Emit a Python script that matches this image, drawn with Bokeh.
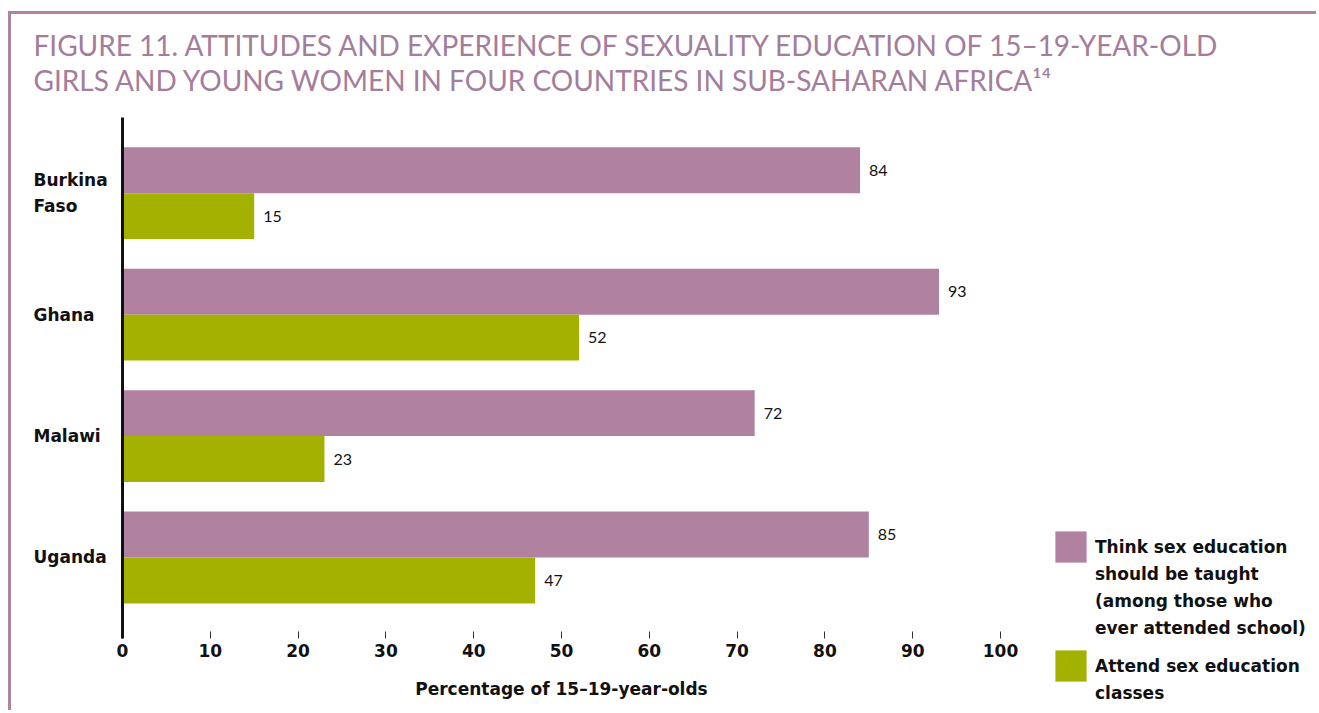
from bokeh.plotting import figure
from bokeh.models import (ColumnDataSource, Range1d, FixedTicker, Legend, LegendItem,
                          Label, LabelSet)
from bokeh.core.properties import value
from bokeh.embed import file_html
from bokeh.resources import INLINE

# ---- data ----
countries = ["Burkina\nFaso", "Ghana", "Malawi", "Uganda"]
think_taught = [84, 93, 72, 85]
attend_classes = [15, 52, 23, 47]
x_ticks = [0, 10, 20, 30, 40, 50, 60, 70, 80, 90, 100]
series_names = ["Think sex education\nshould be taught\n(among those who\never attended school)",
                "Attend sex education\nclasses"]
title_lines = ["FIGURE 11. ATTITUDES AND EXPERIENCE OF SEXUALITY EDUCATION OF 15\u201319-YEAR-OLD",
               "GIRLS AND YOUNG WOMEN IN FOUR COUNTRIES IN SUB-SAHARAN AFRICA\u00b9\u2074"]
x_label = "Percentage of 15\u201319-year-olds"

PINK = "#b0829f"
GREEN = "#a3b100"
TITLE_C = "#a47d9b"
FONT = "Lato"
BOLD_FONT = "DejaVu Sans"
INK = "#111111"

n = len(countries)
ypos = [n - 1 - i for i in range(n)]
bar_h = 0.378
y_bottom = -0.667   # where the value axis sits
y_top = 3.6235      # top of the category axis line
label_x = -10.14    # left edge of the category labels / title

src_pink = ColumnDataSource(dict(y=[v + bar_h / 2 for v in ypos], x=think_taught,
                                 lab=[str(v) for v in think_taught]))
src_green = ColumnDataSource(dict(y=[v - bar_h / 2 for v in ypos], x=attend_classes,
                                  lab=[str(v) for v in attend_classes]))

p = figure(width=1308, height=699, output_backend="svg", toolbar_location=None,
           x_range=Range1d(-12.642, 136.33), y_range=Range1d(-1.2847, 4.4717),
           min_border_left=0, min_border_right=0, min_border_top=0, min_border_bottom=0,
           margin=(11, 0, 0, 8))
p.styles = {"border-top": "3px solid " + PINK, "border-left": "3px solid " + PINK}
p.outline_line_color = None
p.grid.visible = False
p.background_fill_color = "white"

r1 = p.hbar(y="y", right="x", left=0, height=bar_h, source=src_pink, color=PINK, line_color=None)
r2 = p.hbar(y="y", right="x", left=0, height=bar_h, source=src_green, color=GREEN, line_color=None)
r_blank = p.hbar(y=[], right=[], left=0, height=bar_h, fill_alpha=0, line_alpha=0)

for src in (src_pink, src_green):
    p.add_layout(LabelSet(x="x", y="y", text="lab", source=src, x_offset=9,
                          text_baseline="middle", text_align="left",
                          text_font=value(FONT), text_font_size="16px", text_color=INK))

# category labels (left aligned, one Label per line)
for name, yv in zip(countries, ypos):
    lines = name.split("\n")
    m = len(lines)
    for k, ln in enumerate(lines):
        p.add_layout(Label(x=label_x, y=yv, y_offset=((m - 1) / 2 - k) * 26, text=ln,
                           text_align="left", text_baseline="middle",
                           text_font=BOLD_FONT, text_font_size="17px", text_font_style="bold",
                           text_color=INK))

# title (two lines, 35 px apart)
for k, ln in enumerate(title_lines):
    p.add_layout(Label(x=label_x, y=y_top, y_offset=72 - 35 * k, text=ln,
                       text_align="left", text_baseline="alphabetic",
                       text_font=FONT, text_font_size="28px", text_color=TITLE_C))

# x axis (fixed inside the frame)
xa = p.xaxis[0]
xa.fixed_location = y_bottom
xa.bounds = (0, 100)
xa.ticker = FixedTicker(ticks=x_ticks)
xa.axis_line_color = None
xa.major_tick_in = 7
xa.major_tick_out = 0
xa.minor_tick_line_color = None
xa.major_tick_line_color = "#333333"
xa.major_tick_line_width = 1
xa.major_label_standoff = 6
xa.major_label_text_font = BOLD_FONT
xa.major_label_text_font_style = "bold"
xa.major_label_text_font_size = "17px"
xa.major_label_text_color = INK
xa.axis_label = x_label
xa.axis_label_text_font = BOLD_FONT
xa.axis_label_text_font_style = "bold"
xa.axis_label_text_font_size = "17px"
xa.axis_label_text_color = INK
xa.axis_label_standoff = 18

# y axis (fixed at x = 0)
ya = p.yaxis[0]
ya.fixed_location = 0
ya.bounds = (y_bottom, y_top)
ya.ticker = FixedTicker(ticks=[])
ya.axis_line_color = INK
ya.axis_line_width = 3
ya.major_tick_line_color = None
ya.minor_tick_line_color = None
ya.major_label_text_font_size = "0px"


# legends: swatch on the first text line, continuation lines in a second legend
def add_legend(label, rend, y_first, y_rest):
    lines = label.split("\n")
    common = dict(glyph_width=39, label_standoff=5, label_text_font=BOLD_FONT,
                  label_text_font_style="bold", label_text_font_size="17px",
                  label_text_color=INK, label_height=20, border_line_color=None,
                  background_fill_alpha=0, padding=0, margin=0, spacing=0)
    p.add_layout(Legend(items=[LegendItem(label=lines[0], renderers=[rend])],
                        location=(1040, y_first), glyph_height=39, **common))
    if len(lines) > 1:
        p.add_layout(Legend(items=[LegendItem(label=ln, renderers=[r_blank]) for ln in lines[1:]],
                            location=(1040, y_rest), glyph_height=27, **common))


add_legend(series_names[0], r1, 147, 72)
add_legend(series_names[1], r2, 28, 7)

open("out.html", "w").write(file_html(p, INLINE))
